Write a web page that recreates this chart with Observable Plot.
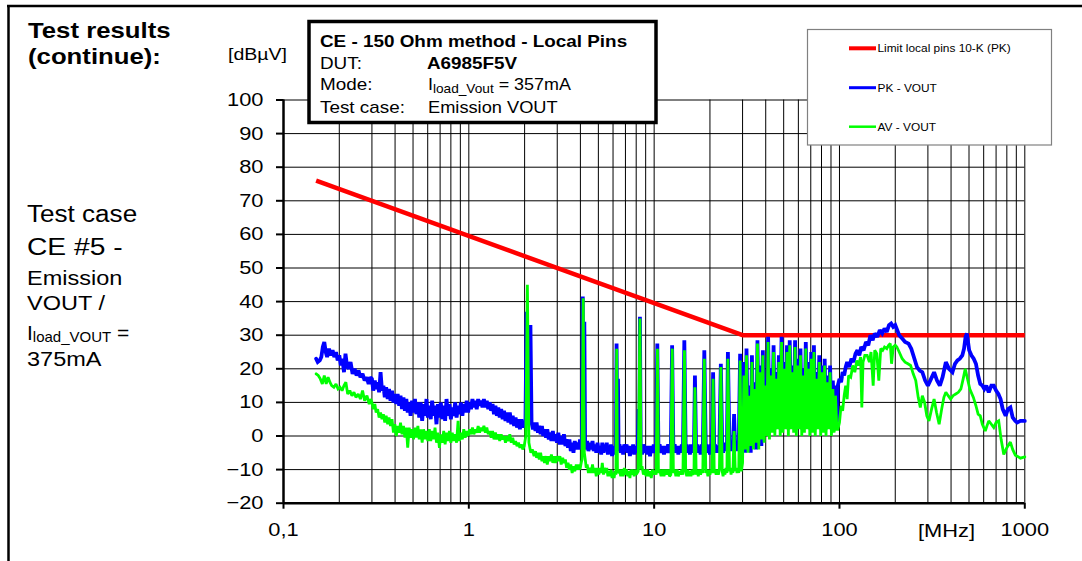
<!DOCTYPE html>
<html><head><meta charset="utf-8">
<script src="https://cdn.jsdelivr.net/npm/d3@7"></script>
<script src="https://cdn.jsdelivr.net/npm/@observablehq/plot@0.6"></script>
<style>
body{margin:0;background:#fff}
#wrap{position:relative;width:1082px;height:561px;overflow:hidden;font-family:"Liberation Sans",Arial,sans-serif}
#chart{position:absolute;left:0;top:0}
#ov{position:absolute;left:0;top:0;pointer-events:none}
</style>
</head><body>
<div id="wrap">
<div id="chart"></div>
<svg id="ov" width="1082" height="561" font-family="Liberation Sans, Arial, sans-serif" fill="#000">
  <line x1="7" y1="6" x2="1082" y2="6" stroke="#000" stroke-width="2.5"/>
  <line x1="8.5" y1="5" x2="8.5" y2="561" stroke="#000" stroke-width="2.5"/>
  <text transform="translate(28,38) scale(1.17,1)" font-size="22" font-weight="bold">Test results</text>
  <text transform="translate(28,64) scale(1.17,1)" font-size="22" font-weight="bold">(continue):</text>
  <text transform="translate(27,222) scale(1.12,1)" font-size="23.3">Test case</text>
  <text transform="translate(27,255) scale(1.2,1)" font-size="23.5">CE #5 -</text>
  <text transform="translate(27,285) scale(1.12,1)" font-size="21">Emission</text>
  <text transform="translate(27,310) scale(1.12,1)" font-size="21">VOUT /</text>
  <text transform="translate(27,340)" font-size="21">I<tspan font-size="15" dy="1.5">load_VOUT</tspan><tspan dy="-1.5"> =</tspan></text>
  <text transform="translate(27,366) scale(1.12,1)" font-size="21">375mA</text>
  <text transform="translate(228,60) scale(1.15,1)" font-size="17">[dBµV]</text>
  <text transform="translate(918,537) scale(1.15,1)" font-size="19">[MHz]</text>

  <rect x="309" y="21.5" width="347" height="101" fill="#fff" stroke="#000" stroke-width="3.5"/>
  <text transform="translate(320,47) scale(1.18,1)" font-size="16" font-weight="bold">CE - 150 Ohm method - Local Pins</text>
  <text transform="translate(320,68.5) scale(1.18,1)" font-size="16">DUT:</text>
  <text transform="translate(427,68.5) scale(1.18,1)" font-size="16" font-weight="bold">A6985F5V</text>
  <text transform="translate(320,89.5) scale(1.18,1)" font-size="16">Mode:</text>
  <text transform="translate(428,89.5) scale(1.12,1)" font-size="16">I<tspan font-size="12.2" dy="3.5">load_Vout</tspan><tspan dy="-3.5"> = 357mA</tspan></text>
  <text transform="translate(320,112.5) scale(1.18,1)" font-size="16">Test case:</text>
  <text transform="translate(428,112.5) scale(1.14,1)" font-size="16">Emission VOUT</text>

  <rect x="807.5" y="29.5" width="244" height="115.5" fill="#fff" stroke="#808080" stroke-width="1.2"/>
  <line x1="849" y1="48.3" x2="876" y2="48.3" stroke="#ff0000" stroke-width="4"/>
  <line x1="849" y1="87.7" x2="876" y2="87.7" stroke="#0000ff" stroke-width="3"/>
  <line x1="849" y1="126.7" x2="876" y2="126.7" stroke="#00ff00" stroke-width="2.5"/>
  <text transform="translate(877.5,52) scale(1.08,1)" font-size="11">Limit local pins 10-K (PK)</text>
  <text transform="translate(877.5,91.5) scale(1.08,1)" font-size="11">PK - VOUT</text>
  <text transform="translate(877.5,130.5) scale(1.08,1)" font-size="11">AV - VOUT</text>
</svg>
</div>
<script>
// ---- axis ticks ----
const xTicks = [0.1, 1, 10, 100, 1000];
const xTickLabels = ["0,1", "1", "10", "100", "1000"];
const yTicks = [-20, -10, 0, 10, 20, 30, 40, 50, 60, 70, 80, 90, 100];

// ---- limit line: Limit local pins 10-K (PK) ----
const limitFreq = [0.15, 30, 1000];
const limitVal = [76, 30, 30];

// ---- PK - VOUT  [MHz, dBµV] ----
const pkVout = [
[0.150,23],[0.153,22],[0.157,22.5],[0.160,23.5],[0.163,26.5],[0.166,28],[0.169,25],[0.172,23.5],[0.176,26],[0.180,24],[0.184,25.5],[0.188,23.5],[0.192,25],[0.196,22.5],[0.200,24],[0.204,21],[0.208,23],[0.212,19],[0.216,24.5],[0.220,21],[0.225,20],[0.230,22],[0.236,18.5],[0.242,20],[0.248,18],[0.254,19.5],[0.260,17.5],[0.267,18.5],[0.274,16.5],[0.281,17.5],[0.288,15.5],[0.294,17.5],
[0.300,17],[0.305,13.5],[0.311,16.5],[0.316,14],[0.322,16],[0.328,13],[0.334,19],[0.340,13.5],[0.346,15],[0.352,11.5],[0.358,14.5],[0.365,11],[0.371,14],[0.378,10.5],[0.385,13.5],[0.392,10],[0.399,12.5],[0.406,9.5],[0.413,12.5],[0.421,9],[0.428,12],[0.436,8],[0.444,11.5],[0.452,7.5],[0.460,11],[0.468,7],[0.477,10],[0.485,6],[0.494,10.5],[0.503,7],[0.512,11],[0.521,6.5],[0.531,10],[0.540,5.5],[0.550,10],[0.560,4.5],[0.570,9.5],[0.580,6],[0.591,11],[0.601,5.5],[0.612,9],[0.623,5],[0.634,10.5],[0.646,6],[0.657,9],[0.669,3.5],[0.681,9.5],[0.694,5.5],[0.706,10],[0.719,5],[0.732,9],[0.745,4.5],[0.758,11],[0.772,6],[0.786,9.5],[0.800,5],[0.814,8.5],[0.829,6],[0.844,10],[0.859,5.5],[0.875,9],[0.890,6.5],[0.906,10],[0.923,6],[0.939,9.5],[0.956,7],[0.974,10.5],[0.991,7],[1.009,10],[1.027,8],[1.046,11],[1.065,8.5],[1.084,10.5],[1.103,8],[1.123,11],[1.143,9],[1.164,10.5],[1.185,8.5],[1.206,11],[1.228,8.5],[1.250,10.5],[1.273,8],[1.296,10],[1.319,7.5],[1.343,9.5],[1.367,6.5],[1.392,9],[1.417,6],[1.442,8.5],[1.468,5.5],[1.495,8],[1.522,5],[1.549,7.5],[1.577,4.5],[1.606,7],[1.635,4],[1.664,7],[1.694,3.5],[1.725,6],[1.756,3],[1.788,5.5],[1.820,2.5],[1.853,5],[1.886,2],[1.920,5],[1.955,2.5],[1.990,4.5],[2.02,3],[2.05,37],[2.08,10],[2.12,8],[2.15,33],[2.18,4],
[2.22,2],[2.25,4],[2.29,1.5],[2.32,4],[2.36,1],[2.40,3],[2.44,0.5],[2.48,3],[2.52,0],[2.56,2],[2.61,-0.5],[2.65,2],[2.70,-1],[2.74,1],[2.79,-1.5],[2.84,1.5],[2.89,-1.5],[2.94,0.5],[2.99,-2],[3.04,1],[3.10,-2.5],[3.15,0],[3.21,-2.5],[3.26,0.5],[3.32,-3],[3.37,-1],[3.43,-3.5],[3.49,-1],[3.55,-4.5],[3.61,-2],[3.67,-5],[3.73,-1.5],[3.80,-4],[3.86,-2],[3.92,-4],[3.98,-1],[4.04,-3],[4.08,-1],[4.12,41.5],[4.16,-1],[4.20,34],[4.24,-2],[4.30,-4],[4.35,-1.5],[4.42,-4.5],[4.50,-2],[4.57,-4],[4.65,-1.5],[4.72,-4.5],[4.80,-2.5],[4.87,-5],[4.95,-2],[5.03,-5],[5.10,-3],[5.18,-5.5],[5.25,-2],[5.33,-5],[5.40,-2.5],[5.48,-4.5],[5.55,-2],[5.63,-5.5],[5.70,-3],[5.78,-5],[5.85,-2.5],[5.93,-6],[6.00,-3.5],[6.08,-5.5],[6.15,-3],[6.22,-3.5],[6.27,27.5],[6.33,-4],[6.38,17],[6.43,-4.5],
[6.5,-2.5],[6.6,-5],[6.7,-3],[6.8,-5.5],[6.9,-2.5],[7.0,-4.5],[7.1,-2.5],[7.2,-5],[7.3,-3],[7.4,-6],[7.5,-3],[7.6,-5],[7.7,-2.5],[7.8,-5.5],[7.9,-3],[8.0,-5],[8.15,-3],[8.25,8],[8.32,-4],[8.38,35.5],[8.46,-3.5],[8.6,-5.5],[8.75,-2.5],[8.9,-5],[9.05,-3],[9.2,-5.5],[9.35,-3],[9.5,-6],[9.65,-3],[9.8,-5],[9.95,-2.5],[10.1,-5],[10.25,-4],[10.4,27.5],[10.55,-4],[10.7,-2.5],[10.9,-5],[11.1,-3],[11.3,-5.5],[11.5,-3],[11.7,-5],[11.9,-2.5],[12.1,-5],[12.3,-4],[12.5,27],[12.7,-4],[12.9,-2.5],[13.1,-5],[13.3,-3],[13.5,-5.5],[13.7,-3],[13.9,-5],[14.1,-2.5],[14.3,-5],[14.55,28.5],[14.8,-4],[15.0,-2.5],[15.2,-5],[15.4,-3],[15.6,-5.5],[15.8,-2.5],[16.0,-5],[16.2,-3],[16.4,-4],[16.6,18],[16.85,-5],[17.1,-2.5],[17.3,-5],[17.55,-3],[17.8,-5.5],[18.05,-2.5],[18.3,-4.5],[18.65,25.5],[19.0,-4],[19.25,-2.5],[19.5,-5],[19.75,-3],[20.0,-5.5],[20.25,-2.5],[20.5,-4],[20.8,19],[21.1,-4],[21.35,-2.5],[21.6,-5],[21.9,-3],[22.2,-5],[22.5,-2.5],[22.9,21.5],[23.3,-3.5],[23.55,-5],[23.8,-2.5],[24.1,-4.5],[24.4,-2],[24.7,-4],[25.0,25],[25.5,-3.5],[25.75,-1.5],[26.0,-4.5],[26.3,-2],[26.6,-4],[27.0,6.5],[27.4,-4],[27.7,-2],[28.0,-4.5],[28.3,-1.5],[28.6,-3.5],[29.1,24.5],[29.5,-3],
[30.0,-4],[30.5,22],[31.0,-5],[31.5,26],[32.1,-3],[32.6,15],[33.2,-5],[33.7,24],[34.3,-3],[34.9,16],[35.5,-4],[36.1,28.5],[36.7,-2],[37.3,21],[37.9,-3],[38.6,25.5],[39.2,0],[39.9,17],[40.5,1],[41.2,29.5],[41.9,2],[42.6,20],[43.3,3],[44.1,27],[44.8,2],[45.6,19],[46.3,4],[47.1,24],[47.9,2],[48.7,29.5],[49.5,3],[50.4,22],[51.2,4],[52.1,27],[53.0,2],[53.9,28.5],[54.8,4],[55.7,21],[56.6,3],[57.6,28.5],[58.5,2],[59.5,23],[60.5,4],[61.6,26],[62.6,2],[63.7,20],[64.7,3],[65.8,28],[66.9,4],[68.1,22],[69.2,2],[70.4,25],[71.6,3],[72.8,27],[74.0,2],[75.3,19],[76.5,4],[77.8,24],[79.2,2],[80.5,21],[81.9,3],[83.2,23],[84.6,2],[86.1,18],[87.5,4],[89.0,21],[90.5,2],[92.1,16.5],[93.6,3],[95.2,15],[96.8,4],
[98,15],[100,17],[102,16],[104,19],[106,18],[108,20.5],[110,22],[113,20.5],[116,23],[119,22],[122,24.5],[125,25.5],[128,24],[131,26.5],[135,25.5],[139,28],[143,27],[147,30],[151,28.5],[155,30.5],[160,29.5],[165,31.5],[170,30.5],[175,32],[180,31],[185,33],[190,33.5],[195,32.5],[200,33],[205,31.5],[210,30],[218,29],[226,28],[236,27.5],[244,26],[252,23.5],[262,20.5],[271,19.5],[280,19],[290,16.5],[300,15],[312,17],[324,19],[336,16.5],[348,15],[360,17.5],[375,22],[390,20],[407,19],[420,21.5],[433,22.5],[446,23],[460,24],[470,26],[479,29.5],[487,30.5],[494,28],[501,25.5],[515,24],[530,23],[545,21.5],[560,18],[575,15.5],[590,15],[605,14],[620,15],[639,13],[660,15],[680,15],[700,13.5],[720,12.5],[740,11],[760,8],[788,6],[810,8],[836,8.5],[860,5.5],[889,4.5],[910,4],[947,4.5],[1000,4.5]
];

// ---- AV - VOUT  [MHz, dBµV] ----
const avVout = [
[0.150,18.5],[0.154,18],[0.158,17],[0.162,15.5],[0.166,18],[0.170,15.5],[0.174,17.5],[0.178,16],[0.182,15],[0.187,14.5],[0.192,15.5],[0.197,14],[0.202,14.5],[0.207,13.5],[0.212,15],[0.217,16],[0.222,12.5],[0.228,13.5],[0.234,12],[0.240,13],[0.246,11.5],[0.253,12.5],[0.260,11],[0.267,13.5],[0.274,10.5],[0.282,12],[0.290,9.5],[0.295,11],
[0.300,10],[0.305,8],[0.311,9.5],[0.316,7],[0.322,8],[0.328,5.5],[0.334,7],[0.340,5],[0.346,6.5],[0.352,4],[0.358,6],[0.365,3.5],[0.371,5.5],[0.378,3],[0.385,5],[0.392,1],[0.399,3.5],[0.406,0],[0.413,3],[0.421,1],[0.428,4],[0.436,0.5],[0.444,3],[0.452,-0.5],[0.460,2.5],[0.468,-3.5],[0.477,2.5],[0.485,-0.5],[0.494,2],[0.503,-1],[0.512,2.5],[0.521,-0.5],[0.531,3],[0.540,-1],[0.550,2],[0.560,-2],[0.570,2],[0.580,-1],[0.591,1.5],[0.601,-1.5],[0.612,2],[0.623,-1.5],[0.634,1.5],[0.646,-1],[0.657,2.5],[0.669,-2],[0.681,1],[0.694,-3.5],[0.706,0.5],[0.719,-2],[0.732,1.5],[0.745,-2.5],[0.758,1],[0.772,-1.5],[0.786,1.5],[0.800,-2],[0.814,1],[0.829,-1.5],[0.844,0.5],[0.859,-2],[0.875,4.5],[0.890,-1.5],[0.906,1],[0.923,-1],[0.939,2],[0.956,-0.5],[0.974,1.5],[0.991,0],[1.009,2],[1.027,0.5],[1.046,2.5],[1.065,0.5],[1.084,2],[1.103,1],[1.123,3],[1.143,1],[1.164,2.5],[1.185,1.5],[1.206,3],[1.228,1],[1.250,2.5],[1.273,0.5],[1.296,1.5],[1.319,-0.5],[1.343,1.5],[1.367,-1],[1.392,1],[1.417,-1],[1.442,0.5],[1.468,-1.5],[1.495,0.5],[1.522,-1],[1.549,0],[1.577,-2],[1.606,0],[1.635,-1.5],[1.664,0.5],[1.694,-2],[1.725,-0.5],[1.756,-2.5],[1.788,-1.5],[1.820,-3],[1.853,-2],[1.886,-3.5],[1.920,-2.5],[1.955,-4],[1.990,-3],[2.03,0],[2.07,45],[2.11,-2],[2.16,-5],
[2.20,-4],[2.25,-6],[2.29,-4.5],[2.32,-6.5],[2.36,-5],[2.40,-7],[2.44,-5],[2.48,-7.5],[2.52,-6],[2.56,-8],[2.61,-6],[2.65,-8.5],[2.70,-6],[2.74,-7.5],[2.79,-5.5],[2.84,-8],[2.89,-6],[2.94,-8],[2.99,-6],[3.04,-7.5],[3.10,-6],[3.15,-8.5],[3.21,-6.5],[3.26,-8],[3.32,-7],[3.37,-9.5],[3.43,-8],[3.49,-10],[3.55,-8.5],[3.61,-11],[3.67,-9],[3.73,-10.5],[3.80,-8.5],[3.86,-10],[3.92,-8.5],[3.98,-10],[4.04,-8],[4.08,-7],[4.14,41],[4.20,-5],[4.26,-7.5],[4.30,-9.5],[4.35,-8.5],[4.42,-11],[4.50,-9.5],[4.57,-11],[4.65,-8.5],[4.72,-11],[4.80,-9.5],[4.87,-12],[4.95,-9.5],[5.03,-11.5],[5.10,-9.5],[5.18,-11],[5.25,-8],[5.33,-11.5],[5.40,-9.5],[5.48,-11],[5.55,-9.5],[5.63,-12],[5.70,-10.5],[5.78,-12],[5.85,-10],[5.93,-12.5],[6.00,-11],[6.08,-12.5],[6.15,-10.5],[6.22,-11.5],[6.28,26],[6.34,-11],
[6.5,-10],[6.6,-12],[6.7,-10],[6.8,-12],[6.9,-9.5],[7.0,-11.5],[7.1,-10],[7.2,-12],[7.3,-10.5],[7.4,-12.5],[7.5,-10],[7.6,-11.5],[7.7,-10],[7.8,-12],[7.9,-10],[8.0,-11.5],[8.2,-10.5],[8.38,35],[8.5,-10],[8.6,-9],[8.75,-11.5],[8.9,-10],[9.05,-12],[9.2,-10],[9.35,-12],[9.5,-10.5],[9.65,-12.5],[9.8,-10],[9.95,-11.5],[10.1,-10.5],[10.25,-11.5],[10.42,26],[10.55,-11],[10.7,-10],[10.9,-12],[11.1,-10],[11.3,-12],[11.5,-10],[11.7,-11.5],[11.9,-10],[12.1,-12],[12.3,-11.5],[12.52,26],[12.7,-11],[12.9,-10],[13.1,-12],[13.3,-10],[13.5,-12],[13.7,-10.5],[13.9,-11.5],[14.1,-10],[14.3,-11.5],[14.57,25.5],[14.8,-10.5],[15.0,-12],[15.2,-10],[15.4,-12],[15.6,-10.5],[15.8,-12],[16.0,-10],[16.2,-11.5],[16.4,-11],[16.6,14.5],[16.85,-11.5],[17.1,-10],[17.3,-12],[17.55,-10],[17.8,-11.5],[18.05,-10],[18.3,-11],[18.65,23],[19.0,-11],[19.25,-10],[19.5,-12],[19.75,-10],[20.0,-11.5],[20.25,-10],[20.5,-11],[20.8,17],[21.1,-11],[21.35,-10],[21.6,-11.5],[21.9,-10],[22.2,-11.5],[22.5,-10],[22.9,20.5],[23.3,-10.5],[23.55,-12],[23.8,-10],[24.1,-11.5],[24.4,-9.5],[24.7,-11],[25.0,23],[25.5,-10.5],[25.75,-9.5],[26.0,-11.5],[26.3,-9.5],[26.6,-11],[27.0,1.5],[27.4,-10.5],[27.7,-9.5],[28.0,-11],[28.3,-9.5],[28.6,-11],[29.1,22.5],[29.5,-10.5],
[30.0,-8],[30.5,18],[31.0,-4],[31.5,24],[32.1,-5],[32.6,12],[33.2,-3],[33.7,22],[34.3,-4],[34.9,14],[35.5,-2],[36.1,27.5],[36.7,-4],[37.3,19],[37.9,-1],[38.6,24],[39.2,-2],[39.9,15],[40.5,0],[41.2,28],[41.9,-1],[42.6,18],[43.3,1],[44.1,25],[44.8,0],[45.6,17],[46.3,2],[47.1,22],[47.9,0],[48.7,28],[49.5,1],[50.4,20],[51.2,2],[52.1,25],[53.0,0],[53.9,27],[54.8,2],[55.7,19],[56.6,1],[57.6,26.5],[58.5,0],[59.5,21],[60.5,2],[61.6,24],[62.6,0],[63.7,18],[64.7,1],[65.8,26],[66.9,2],[68.1,20],[69.2,0],[70.4,23],[71.6,1],[72.8,25],[74.0,0],[75.3,17],[76.5,2],[77.8,22],[79.2,0],[80.5,19],[81.9,1],[83.2,21],[84.6,0],[86.1,16],[87.5,2],[89.0,19],[90.5,0],[92.1,14],[93.6,1],[95.2,12],[96.8,2],
[98,2],[100,4],[102,9],[104,7.5],[106,12],[108,15],[110,11],[112,18],[115,17.5],[118,21],[121,19],[124,22.5],[127,21],[130,23.5],[132,8.5],[134,22],[137,24],[141,24],[145,22],[148,25],[152,15],[155,25.5],[159,24.5],[163,16.5],[167,26],[171,25.5],[175,26.5],[180,26],[184,27],[188,27.5],[191,21.5],[195,26.5],[200,27],[204,26.5],[210,25],[218,23],[226,22],[234,21.5],[242,21],[250,18.5],[258,16.5],[266,11.5],[273,8.5],[280,12],[288,10],[296,6],[304,4.5],[314,8],[324,11],[334,7],[345,3.5],[356,8],[366,11.5],[375,13],[386,12],[398,11],[410,12],[424,12.5],[438,13],[452,14],[465,17],[477,20],[486,18],[493,16.5],[505,14],[528,11.5],[545,9],[560,6.5],[575,6],[590,3.5],[612,1.5],[625,3],[639,4.5],[660,3.5],[680,2.5],[700,4],[723,4.5],[745,-1],[770,-5.5],[800,-3.5],[836,-1.8],[860,-4],[889,-5.7],[910,-6],[947,-6.6],[1000,-6.2]
];

// gridline positions: 1..9 x each decade
const xGrid = [];
for (const dec of [0.1, 1, 10, 100]) for (let k = 1; k <= 9; k++) xGrid.push(+(k * dec).toPrecision(3));
xGrid.push(1000);

const limit = limitFreq.map((f, i) => ({f, v: limitVal[i]}));
const pk = pkVout.map(([f, v]) => ({f, v}));
const av = avVout.map(([f, v]) => ({f, v}));

const chart = Plot.plot({
  width: 1082, height: 561,
  marginLeft: 283, marginRight: 57.7, marginTop: 99.5, marginBottom: 58.3,
  x: {type: "log", domain: [0.1, 1000], axis: null},
  y: {domain: [-20, 100], axis: null},
  style: {fontFamily: "Liberation Sans, Arial, sans-serif", fontSize: "19px", color: "#000", background: "transparent", overflow: "visible"},
  marks: [
    Plot.ruleX(xGrid, {stroke: "#000", strokeWidth: 1}),
    Plot.ruleY(yTicks, {stroke: "#000", strokeWidth: 1}),
    Plot.line(limit, {x: "f", y: "v", stroke: "#ff0000", strokeWidth: 4.5, strokeLinecap: "butt"}),
    Plot.line(pk, {x: "f", y: "v", stroke: "#0000ff", strokeWidth: 3.8, strokeLinejoin: "miter", strokeMiterlimit: 2}),
    Plot.line(av, {x: "f", y: "v", stroke: "#00ff00", strokeWidth: 2.8, strokeLinejoin: "miter", strokeMiterlimit: 2}),
    Plot.ruleX([0.1], {stroke: "#000", strokeWidth: 2.5}),
    Plot.ruleY([-20], {stroke: "#000", strokeWidth: 2.5}),
    Plot.axisY(yTicks, {anchor: "left", tickSize: 7, tickPadding: 13, label: null, strokeWidth: 2}),
    Plot.axisX(xTicks, {anchor: "bottom", tickSize: 6, tickPadding: 13, label: null, strokeWidth: 2,
      tickFormat: d => xTickLabels[xTicks.indexOf(d)]})
  ]
});
document.getElementById("chart").appendChild(chart);

// stretch tick labels horizontally like the original rendering
chart.querySelectorAll('[aria-label$="tick label"] text').forEach(el => {
  const t = el.getAttribute("transform");
  if (t) el.setAttribute("transform", t + " scale(1.15,1)");
});
</script>
</body></html>
